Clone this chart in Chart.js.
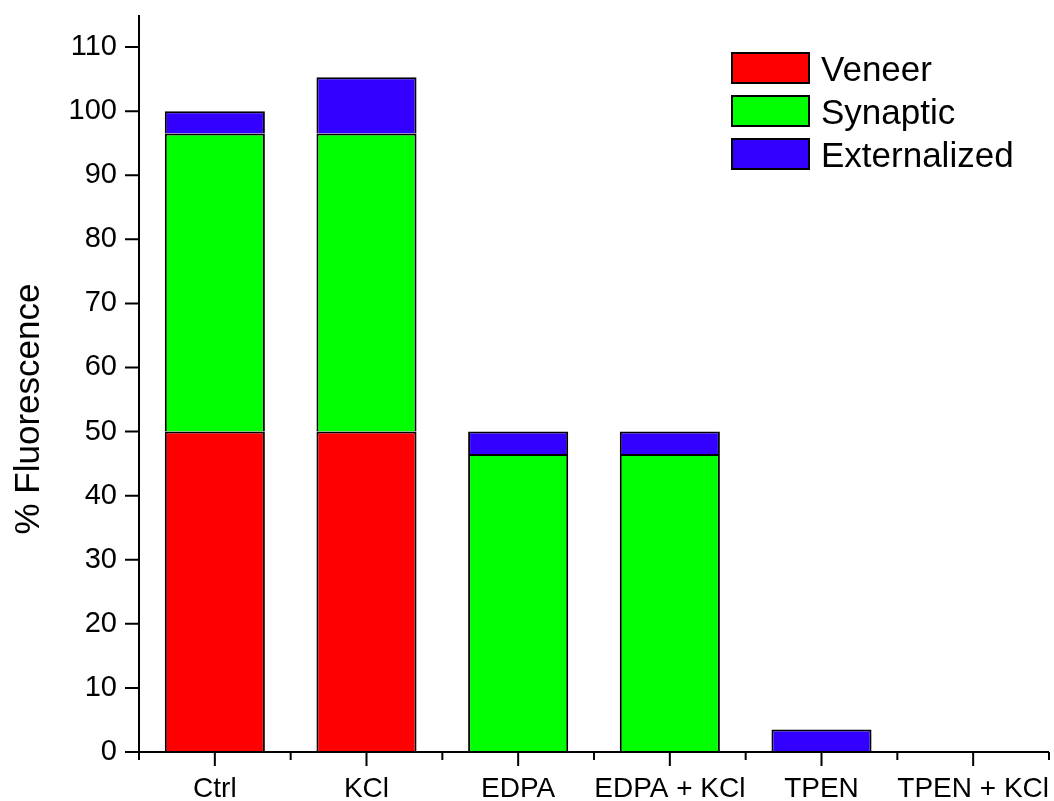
<!DOCTYPE html>
<html>
<head>
<meta charset="utf-8">
<script src="https://cdn.jsdelivr.net/npm/chart.js@4"></script>
<style>
  html, body { margin: 0; padding: 0; background: #fff; }
  #wrap { width: 1054px; height: 801px; }
</style>
</head>
<body>
<div id="wrap"><canvas id="c" width="1054" height="801"></canvas></div>
<script>
// Treatment groups along the x axis
const categories = ['Ctrl', 'KCl', 'EDPA', 'EDPA + KCl', 'TPEN', 'TPEN + KCl'];

// Stacked fluorescence fractions (%)
const veneer       = [50, 50, 0, 0, 0, 0];
const synaptic     = [46.5, 46.5, 46.5, 46.5, 0, 0];
const externalized = [3.5, 8.8, 3.5, 3.5, 3.5, 0];

const seriesNames = ['Veneer', 'Synaptic', 'Externalized'];
const yTitle = '% Fluorescence';

const FONT = "'Liberation Sans', Arial, Helvetica, sans-serif";

// Axis lines with outward major/minor ticks, drawn from the scales
const axesFrame = {
  id: 'axesFrame',
  afterDatasetsDraw(chart) {
    const ctx = chart.ctx;
    const xs = chart.scales.x, ys = chart.scales.y;
    const area = chart.chartArea;
    const base = ys.getPixelForValue(0);
    const topY = ys.getPixelForValue(ys.max);
    ctx.save();
    ctx.strokeStyle = '#000';
    ctx.lineWidth = 2;
    ctx.lineCap = 'butt';
    // y axis
    ctx.beginPath();
    ctx.moveTo(area.left, topY);
    ctx.lineTo(area.left, base + 1);
    ys.ticks.forEach(t => {
      const py = ys.getPixelForValue(t.value);
      const len = (t.value % 10 === 0) ? 14 : 8;
      ctx.moveTo(area.left, py);
      ctx.lineTo(area.left - len, py);
    });
    // x axis
    ctx.moveTo(area.left - 1, base);
    ctx.lineTo(area.right, base);
    const n = categories.length;
    for (let i = 0; i < n; i++) {
      const px = xs.getPixelForValue(i);
      ctx.moveTo(px, base);
      ctx.lineTo(px, base + 14);
    }
    for (let k = 0; k <= n; k++) {
      const px = xs.left + k * (xs.width / n);
      ctx.moveTo(px, base);
      ctx.lineTo(px, base + 8);
    }
    ctx.stroke();

    // y axis title
    ctx.fillStyle = '#000';
    ctx.font = '35px ' + FONT;
    ctx.textAlign = 'center';
    ctx.textBaseline = 'alphabetic';
    ctx.translate(39, 409);
    ctx.rotate(-Math.PI / 2);
    ctx.fillText(yTitle, 0, 0);
    ctx.restore();
  }
};

// Boxed legend in the upper right of the plot
const boxLegend = {
  id: 'boxLegend',
  afterDraw(chart) {
    const ctx = chart.ctx;
    ctx.save();
    ctx.font = '35px ' + FONT;
    ctx.textAlign = 'left';
    ctx.textBaseline = 'alphabetic';
    chart.data.datasets.forEach((ds, i) => {
      const bx = 732, by = 53 + i * 43, bw = 77, bh = 30;
      ctx.fillStyle = ds.backgroundColor;
      ctx.fillRect(bx, by, bw, bh);
      ctx.strokeStyle = '#000';
      ctx.lineWidth = 2;
      ctx.strokeRect(bx, by, bw, bh);
      ctx.fillStyle = '#000';
      ctx.fillText(ds.label, 821, by + bh / 2 + 12.5);
    });
    ctx.restore();
  }
};

const colors = ['#ff0000', '#00ff00', '#3300ff'];
const values = [veneer, synaptic, externalized];

new Chart(document.getElementById('c'), {
  type: 'bar',
  data: {
    labels: categories,
    datasets: values.map((v, i) => ({
      label: seriesNames[i],
      data: v,
      backgroundColor: colors[i],
      borderColor: '#000',
      borderWidth: 2,
      borderSkipped: 'start',
      categoryPercentage: 1.0,
      barPercentage: 0.66
    }))
  },
  options: {
    responsive: false,
    animation: false,
    devicePixelRatio: 1,
    layout: { padding: { top: 15, right: 5, left: 0, bottom: 0 } },
    plugins: {
      legend: { display: false },
      tooltip: { enabled: false }
    },
    scales: {
      x: {
        stacked: true,
        offset: true,
        grid: { display: false, drawTicks: false },
        border: { display: false },
        ticks: {
          color: '#000',
          font: { family: FONT, size: 28 },
          padding: 20,
          maxRotation: 0,
          autoSkip: false
        },
        afterFit(s) {
          s.height = 49;
          s.paddingLeft = 0; s.paddingRight = 0;
        }
      },
      y: {
        stacked: true,
        min: 0,
        max: 115,
        grid: { display: false, drawTicks: false },
        border: { display: false },
        ticks: {
          stepSize: 5,
          color: '#000',
          font: { family: FONT, size: 29 },
          padding: 22,
          callback: v => (v % 10 === 0 ? String(v) : '')
        },
        afterFit(s) {
          s.width = 139;
          s.paddingTop = 0; s.paddingBottom = 0;
        }
      }
    }
  },
  plugins: [axesFrame, boxLegend]
});
</script>
</body>
</html>
